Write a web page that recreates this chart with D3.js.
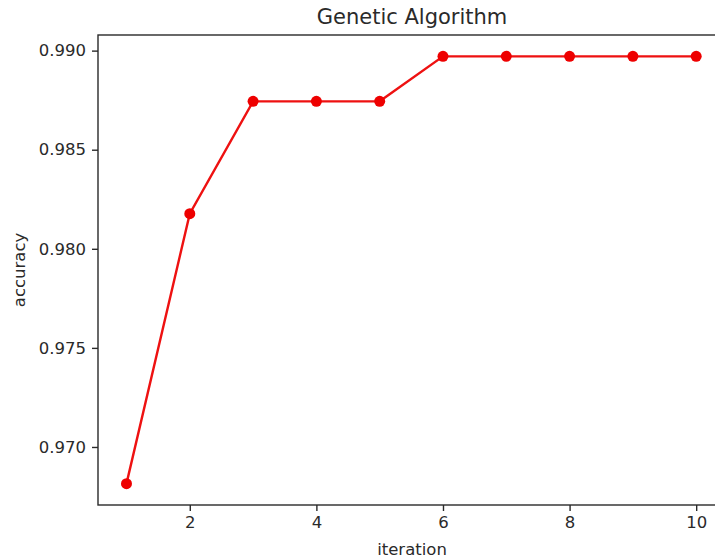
<!DOCTYPE html>
<html>
<head>
<meta charset="utf-8">
<script src="https://cdn.jsdelivr.net/npm/d3@7"></script>
<style>
  body { margin: 0; background: #fff; }
  svg { display: block; font-family: "DejaVu Sans", sans-serif; }
</style>
</head>
<body>
<svg width="715" height="558"></svg>
<script>
let iterations = [1, 2, 3, 4, 5, 6, 7, 8, 9, 10];
let accuracy = [0.96815, 0.98177, 0.98744, 0.98744, 0.98744, 0.98971, 0.98971, 0.98971, 0.98971, 0.98971];
let xTicks = [2, 4, 6, 8, 10];
let yTicks = [0.970, 0.975, 0.980, 0.985, 0.990];

let svg = d3.select('svg');

let plotLeft = 98, plotTop = 35, plotBottom = 505;
let unit = 63.3;

// matplotlib style 5% margins
let xPad = (d3.max(iterations) - d3.min(iterations)) * 0.05;
let yPad = (d3.max(accuracy) - d3.min(accuracy)) * 0.05;
let xDom = [d3.min(iterations) - xPad, d3.max(iterations) + xPad];
let yDom = [d3.min(accuracy) - yPad, d3.max(accuracy) + yPad];

let x = d3.scaleLinear().domain(xDom).range([plotLeft, plotLeft + (xDom[1] - xDom[0]) * unit]);
let y = d3.scaleLinear().domain(yDom).range([plotBottom, plotTop]);

let ink = '#2a2a2a';

// frame
svg.append('rect')
  .attr('x', x.range()[0])
  .attr('y', plotTop)
  .attr('width', x.range()[1] - x.range()[0])
  .attr('height', plotBottom - plotTop)
  .attr('fill', 'none')
  .attr('stroke', ink)
  .attr('stroke-width', 1.4);

let xAxis = svg.append('g')
  .attr('transform', 'translate(0,' + plotBottom + ')')
  .call(d3.axisBottom(x).tickValues(xTicks).tickSize(6).tickPadding(5).tickFormat(d3.format('d')));
let yAxis = svg.append('g')
  .attr('transform', 'translate(' + plotLeft + ',0)')
  .call(d3.axisLeft(y).tickValues(yTicks).tickSize(6).tickPadding(6).tickFormat(d3.format('.3f')));

[xAxis, yAxis].forEach(function (a) {
  a.select('.domain').remove();
  a.selectAll('line').attr('stroke', ink).attr('stroke-width', 1.4);
  a.selectAll('text').attr('fill', ink).style('font-size', '16.5px').style('font-family', '"DejaVu Sans", sans-serif');
});

// line + markers
let line = d3.line()
  .x(function (d, i) { return x(iterations[i]); })
  .y(function (d) { return y(d); });

svg.append('path')
  .datum(accuracy)
  .attr('d', line)
  .attr('fill', 'none')
  .attr('stroke', '#ee1111')
  .attr('stroke-width', 2.4);

svg.append('g')
  .selectAll('circle')
  .data(accuracy)
  .enter()
  .append('circle')
  .attr('cx', function (d, i) { return x(iterations[i]); })
  .attr('cy', function (d) { return y(d); })
  .attr('r', 5.5)
  .attr('fill', '#ee0000');

// titles
svg.append('text')
  .attr('x', 412)
  .attr('y', 24)
  .attr('text-anchor', 'middle')
  .attr('fill', ink)
  .style('font-size', '21px')
  .text('Genetic Algorithm');

svg.append('text')
  .attr('x', 412)
  .attr('y', 555)
  .attr('text-anchor', 'middle')
  .attr('fill', ink)
  .style('font-size', '16.5px')
  .text('iteration');

svg.append('text')
  .attr('transform', 'translate(25,270) rotate(-90)')
  .attr('text-anchor', 'middle')
  .attr('fill', ink)
  .style('font-size', '16.5px')
  .text('accuracy');
</script>
</body>
</html>
